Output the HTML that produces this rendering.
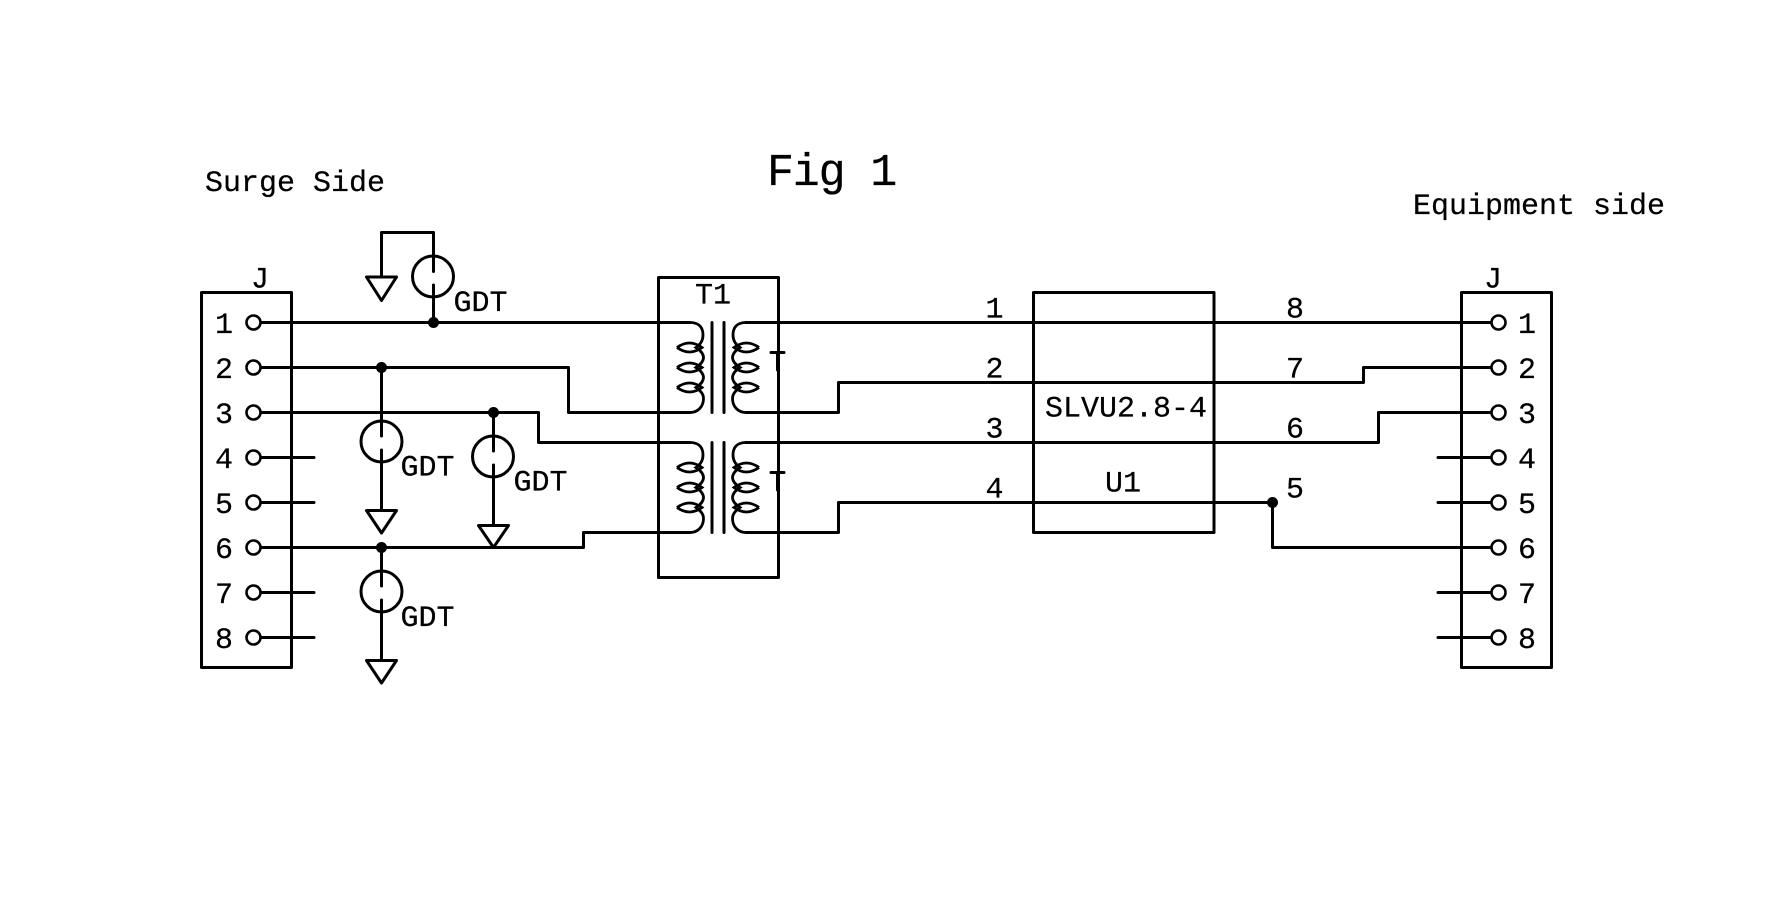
<!DOCTYPE html>
<html>
<head>
<meta charset="utf-8">
<title>Fig 1</title>
<style>
html,body{margin:0;padding:0;background:#fff;width:1780px;height:924px;overflow:hidden}
svg{display:block}
text{font-family:"Liberation Mono",monospace;font-size:30px;fill:#000;stroke:#000;stroke-width:.25}
.w{fill:none;stroke:#000;stroke-width:3;stroke-linejoin:round;stroke-linecap:round}
.t{fill:none;stroke:#000;stroke-width:2.8}
.p{fill:#fff;stroke:#000;stroke-width:2.6}
.m{text-anchor:middle}
</style>
</head>
<body>
<svg xmlns="http://www.w3.org/2000/svg" width="1780" height="924" viewBox="0 0 1780 924">
<defs>
<g id="coil" class="t">
<path d="M690,0 C700,0 703,6 703,12.5 C703,19 699,23 696,25 C701,28 703.5,32 703.5,35 C703.5,38 701,42 696,45 C701,48 703.5,52 703.5,55 C703.5,58 701,62 696,65 C700,68 703.5,71 703.5,76 C703.5,84 698,90 690,90"/>
<path d="M677,25 Q689.5,16 702,25 Q689.5,34 677,25"/>
<path d="M677,45 Q689.5,36 702,45 Q689.5,54 677,45"/>
<path d="M677,65 Q689.5,56 702,65 Q689.5,74 677,65"/>
</g>
<g id="xf">
<use href="#coil"/>
<use href="#coil" transform="matrix(-1 0 0 1 1436 0)"/>
<path class="w" d="M712,0V90M724,0V90"/>
</g>
</defs>
<rect width="1780" height="924" fill="#fff"/>

<!-- boxes -->
<g class="w">
<rect x="201.5" y="292.5" width="90" height="375"/>
<rect x="1461.5" y="292.5" width="90" height="375"/>
<rect x="658.5" y="277.5" width="120" height="300"/>
<rect x="1033.5" y="292.5" width="180.5" height="240"/>
</g>

<!-- left wires -->
<g class="w">
<path d="M261,322.5H690"/>
<path d="M261,367.5H568.5V412.5H690"/>
<path d="M261,412.5H538.5V442.5H690"/>
<path d="M261,457.5H314"/>
<path d="M261,502.5H314"/>
<path d="M261,547.5H583.5V532.5H690"/>
<path d="M261,592.5H314"/>
<path d="M261,637.5H314"/>

<!-- GDT top -->
<path d="M433.5,322.5V285M433.5,271.5V232.5H381.5V277"/>
<path d="M366.5,277H396.5L381.5,300.5Z"/>
<circle cx="433" cy="276.5" r="20.5"/>
<!-- GDT 2 -->
<path d="M381.5,367.5V436M381.5,450V510"/>
<path d="M366.5,510.5H396.5L381.5,533Z"/>
<circle cx="381.5" cy="441.5" r="20.5"/>
<!-- GDT 3 -->
<path d="M493.5,412.5V451M493.5,465V525"/>
<path d="M478.5,525.5H508.5L493.5,547.5Z"/>
<circle cx="493" cy="456.5" r="20.5"/>
<!-- GDT 4 -->
<path d="M381.5,547.5V586M381.5,600V660"/>
<path d="M366.5,660.5H396.5L381.5,683Z"/>
<circle cx="381.5" cy="591.5" r="20.5"/>

<!-- right wires -->
<path d="M746,322.5H1491"/>
<path d="M746,412.5H838.5V382.5H1363.5V367.5H1491"/>
<path d="M746,442.5H1378.5V412.5H1491"/>
<path d="M746,532.5H838.5V502.5H1272.5V547.5H1491"/>
<path d="M1438,457.5H1491"/>
<path d="M1438,502.5H1491"/>
<path d="M1438,592.5H1491"/>
<path d="M1438,637.5H1491"/>

<!-- T marks -->
<path d="M771,352.5H784M777.5,352.5V370"/>
<path d="M771,472.5H784M777.5,472.5V490"/>
</g>

<!-- transformers -->
<use href="#xf" transform="translate(0,322.5)"/>
<use href="#xf" transform="translate(0,442.5)"/>

<!-- junctions -->
<g fill="#000">
<circle cx="433.5" cy="322.5" r="5.5"/>
<circle cx="381.5" cy="367.5" r="5.5"/>
<circle cx="493.5" cy="412.5" r="5.5"/>
<circle cx="381.5" cy="547.5" r="5.5"/>
<circle cx="1272.5" cy="502.5" r="5.5"/>
</g>

<!-- pins -->
<g class="p">
<circle cx="253.5" cy="322.5" r="7"/><circle cx="253.5" cy="367.5" r="7"/>
<circle cx="253.5" cy="412.5" r="7"/><circle cx="253.5" cy="457.5" r="7"/>
<circle cx="253.5" cy="502.5" r="7"/><circle cx="253.5" cy="547.5" r="7"/>
<circle cx="253.5" cy="592.5" r="7"/><circle cx="253.5" cy="637.5" r="7"/>
<circle cx="1498.5" cy="322.5" r="7"/><circle cx="1498.5" cy="367.5" r="7"/>
<circle cx="1498.5" cy="412.5" r="7"/><circle cx="1498.5" cy="457.5" r="7"/>
<circle cx="1498.5" cy="502.5" r="7"/><circle cx="1498.5" cy="547.5" r="7"/>
<circle cx="1498.5" cy="592.5" r="7"/><circle cx="1498.5" cy="637.5" r="7"/>
</g>

<!-- labels -->
<text x="767" y="185" style="font-size:45px;letter-spacing:-1.2px" xml:space="preserve">Fig 1</text>
<text x="205" y="191" xml:space="preserve">Surge Side</text>
<text x="1413" y="214" xml:space="preserve">Equipment side</text>
<text x="260" y="287.5" class="m">J</text>
<text x="1493" y="287.5" class="m">J</text>
<text x="453.5" y="311">GDT</text>
<text x="400.5" y="475.5">GDT</text>
<text x="513.5" y="490.5">GDT</text>
<text x="400.5" y="626">GDT</text>
<text x="695" y="303.5">T1</text>
<text x="1045" y="416.5">SLVU2.8-4</text>
<text x="1105" y="491.5">U1</text>

<g class="m">
<text x="224" y="333">1</text><text x="224" y="378">2</text>
<text x="224" y="423">3</text><text x="224" y="468">4</text>
<text x="224" y="513">5</text><text x="224" y="558">6</text>
<text x="224" y="603">7</text><text x="224" y="648">8</text>
<text x="1527" y="333">1</text><text x="1527" y="378">2</text>
<text x="1527" y="423">3</text><text x="1527" y="468">4</text>
<text x="1527" y="513">5</text><text x="1527" y="558">6</text>
<text x="1527" y="603">7</text><text x="1527" y="648">8</text>
<text x="994.5" y="317.5">1</text><text x="994.5" y="377.5">2</text>
<text x="994.5" y="437.5">3</text><text x="994.5" y="497.5">4</text>
<text x="1295" y="317.5">8</text><text x="1295" y="377.5">7</text>
<text x="1295" y="437.5">6</text><text x="1295" y="497.5">5</text>
</g>
</svg>
</body>
</html>
